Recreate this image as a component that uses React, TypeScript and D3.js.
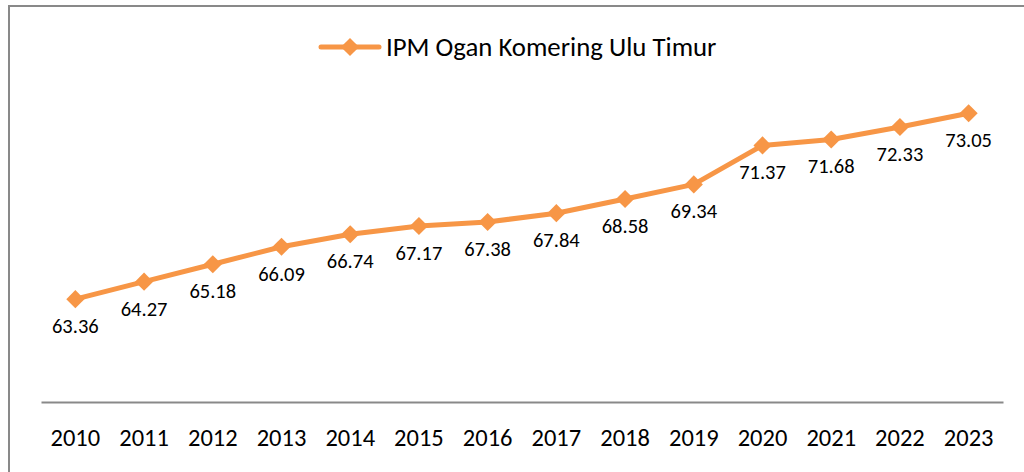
import { useEffect, useRef } from "react";
import * as d3 from "d3";

const years = ["2010", "2011", "2012", "2013", "2014", "2015", "2016", "2017", "2018", "2019", "2020", "2021", "2022", "2023"];
const ipm = [63.36, 64.27, 65.18, 66.09, 66.74, 67.17, 67.38, 67.84, 68.58, 69.34, 71.37, 71.68, 72.33, 73.05];
const seriesName = "IPM Ogan Komering Ulu Timur";

const ORANGE = "#F79646";
const FONT = "Carlito, Calibri, Lato, 'Open Sans', sans-serif";

const App = () => {
  const ref = useRef<SVGSVGElement>(null);

  useEffect(() => {
    const svg = d3.select(ref.current);
    svg.selectAll("*").remove();

    const W = 1024, H = 472;
    const LEFT = 41, RIGHT = 1003, AXIS_Y = 402, TOP = 56.6;

    // frame (only left and top edges visible)
    svg.append("path")
      .attr("d", `M9,${H} L9,6 L${W},6`)
      .attr("fill", "none")
      .attr("stroke", "#898989")
      .attr("stroke-width", 2);

    const x = d3.scaleBand().domain(years).range([LEFT, RIGHT]);
    const y = d3.scaleLinear().domain([58, 76]).range([AXIS_Y, TOP]);

    const data = years.map((yr, i) => ({ yr, v: ipm[i] }));
    const cx = (d: { yr: string }) => (x(d.yr) as number) + x.bandwidth() / 2;

    // x axis
    const xAxis = svg.append("g")
      .attr("transform", `translate(0, ${AXIS_Y})`)
      .call(d3.axisBottom(x).tickSize(0));
    xAxis.select(".domain").attr("stroke", "#898989").attr("stroke-width", 2);
    xAxis.selectAll("text")
      .attr("y", 44)
      .attr("dy", null)
      .attr("font-family", FONT)
      .attr("font-size", "24.5px")
      .attr("fill", "#000");

    // line
    const line = d3.line<{ yr: string; v: number }>().x(cx).y((d) => y(d.v));
    svg.append("path")
      .datum(data)
      .attr("d", line)
      .attr("fill", "none")
      .attr("stroke", ORANGE)
      .attr("stroke-width", 5)
      .attr("stroke-linejoin", "round");

    const diamond = d3.symbol().type(d3.symbolDiamond2).size(210);

    svg.selectAll(".pt")
      .data(data)
      .enter()
      .append("path")
      .attr("class", "pt")
      .attr("d", diamond)
      .attr("transform", (d) => `translate(${cx(d)}, ${y(d.v)})`)
      .attr("fill", ORANGE);

    svg.selectAll(".lbl")
      .data(data)
      .enter()
      .append("text")
      .attr("class", "lbl")
      .attr("x", cx)
      .attr("y", (d) => y(d.v) + 34)
      .attr("text-anchor", "middle")
      .attr("font-family", FONT)
      .attr("font-size", "20.5px")
      .attr("fill", "#000")
      .text((d) => d.v.toFixed(2));

    // legend
    const lg = svg.append("g").attr("transform", "translate(321, 47)");
    lg.append("line")
      .attr("x1", 0).attr("x2", 58)
      .attr("stroke", ORANGE)
      .attr("stroke-width", 5)
      .attr("stroke-linecap", "round");
    lg.append("path")
      .attr("d", diamond)
      .attr("transform", "translate(29, 0)")
      .attr("fill", ORANGE);
    lg.append("text")
      .attr("x", 65)
      .attr("y", 9)
      .attr("font-family", FONT)
      .attr("font-size", "26.8px")
      .attr("fill", "#000")
      .text(seriesName);
  }, []);

  return (
    <svg
      ref={ref}
      width={1024}
      height={472}
      style={{ position: "absolute", left: 0, top: 0, background: "#fff" }}
    />
  );
};

export default App;
